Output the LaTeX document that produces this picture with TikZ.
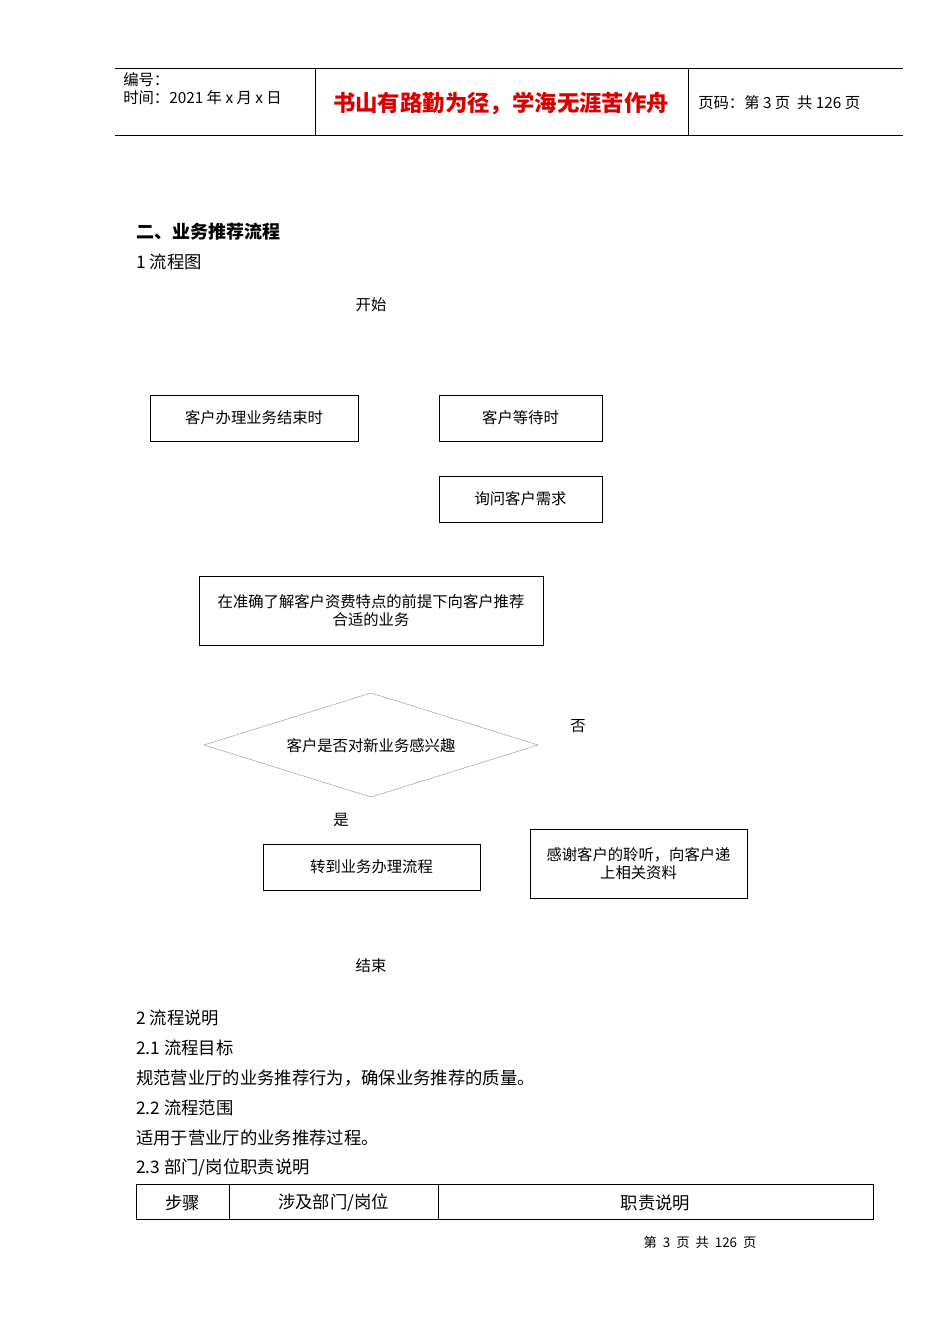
\documentclass[tikz,border=0pt]{standalone}
\usepackage{fontspec}
\setmainfont{Liberation Sans}
\newfontfamily\cjk{Noto Sans CJK SC}
\begin{document}
\begin{tikzpicture}[x=0.75pt,y=-0.75pt,font=\cjk,
  bx/.style={draw,thin,minimum height=0.75pt*46,inner sep=0pt,font=\cjk\fontsize{11.5}{14}\selectfont,align=center},
  tx/.style={inner sep=0pt,font=\cjk\fontsize{11.5}{14}\selectfont},
  body/.style={inner sep=0pt,anchor=west,font=\cjk\fontsize{13}{15}\selectfont}]
\useasboundingbox (0,0) rectangle (950,1344);
% header
\draw[thin] (115,68) -- (903,68) (115,135) -- (903,135) (315,68) -- (315,135) (688,68) -- (688,135);
\node[inner sep=0pt,anchor=north west,align=left,font=\cjk\fontsize{11.5}{14}\selectfont] (h1) at (123,72) {编号：\\时间：2021 年 x 月 x 日};
\node[inner sep=0pt,text=red!85!black,font=\cjk\bfseries\fontsize{16.8}{19}\selectfont] (h2) at (501,104) {书山有路勤为径，学海无涯苦作舟};
\node[inner sep=0pt,anchor=west,font=\cjk\fontsize{11.5}{14}\selectfont] (h3) at (698,103) {页码：第 3 页\ \ 共 126 页};
% titles
\node[body,font=\cjk\bfseries\fontsize{13.5}{16}\selectfont] (t1) at (136,232) {二、业务推荐流程};
\node[body] (t2) at (136,262) {1 流程图};
% flowchart
\node[tx] (start) at (371,305) {开始};
\node[bx,minimum width=0.75pt*208] (a) at (254,418) {客户办理业务结束时};
\node[bx,minimum width=0.75pt*163] (b) at (520.5,418) {客户等待时};
\node[bx,minimum width=0.75pt*163] (c) at (520.5,499) {询问客户需求};
\node[bx,minimum width=0.75pt*344,minimum height=0.75pt*69] (d) at (371,610.5) {在准确了解客户资费特点的前提下向客户推荐\\合适的业务};
\draw[gray!70,thin] (204,745) -- (371,693) -- (538,745) -- (371,797) -- cycle;
\node[tx] (e) at (371,746) {客户是否对新业务感兴趣};
\node[tx] (no) at (578,726) {否};
\node[tx] (yes) at (341,820) {是};
\node[bx,minimum width=0.75pt*217] (f) at (371.5,867) {转到业务办理流程};
\node[bx,minimum width=0.75pt*217,minimum height=0.75pt*69] (g) at (638.5,863.5) {感谢客户的聆听，向客户递\\上相关资料};
\node[tx] (end) at (371,966) {结束};
% text
\node[body] (s1) at (136,1018) {2 流程说明};
\node[body] (s2) at (136,1048) {2.1 流程目标};
\node[body] (s3) at (136,1078) {规范营业厅的业务推荐行为，确保业务推荐的质量。};
\node[body] (s4) at (136,1108) {2.2 流程范围};
\node[body] (s5) at (136,1138) {适用于营业厅的业务推荐过程。};
\node[body] (s6) at (136,1168) {2.3 部门/岗位职责说明};
\draw[thin] (136,1184) rectangle (873,1219) (229,1184) -- (229,1219) (438,1184) -- (438,1219);
\node[tx,font=\cjk\fontsize{13}{15}\selectfont] (c1) at (182.5,1203) {步骤};
\node[tx,font=\cjk\fontsize{13}{15}\selectfont] (c2) at (333.5,1203) {涉及部门/岗位};
\node[tx,font=\cjk\fontsize{13}{15}\selectfont] (c3) at (655.5,1203) {职责说明};
\node[tx,font=\cjk\fontsize{10}{12}\selectfont] (foot) at (700,1242) {第\ \ 3\ \ 页\ \ 共\ \ 126\ \ 页};
\end{tikzpicture}
\end{document}
